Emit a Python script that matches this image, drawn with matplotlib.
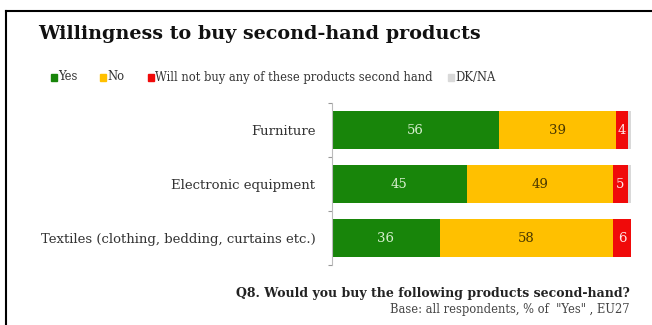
import matplotlib.pyplot as plt
import numpy as np
from matplotlib.patches import Rectangle
from matplotlib.lines import Line2D

categories = ["Furniture", "Electronic equipment", "Textiles (clothing, bedding, curtains etc.)"]
series_names = ["Yes", "No", "Will not buy any of these products second hand", "DK/NA"]
yes = [56, 45, 36]
no = [39, 49, 58]
will_not = [4, 5, 6]
dk_na = [1, 1, 0]

colors = ["#18850a", "#ffc000", "#f00a0a", "#d9d9d9"]
label_colors = ["#d8f0d0", "#4a3800", "#ffe8e8", None]

plt.rcParams['font.family'] = ['DejaVu Serif']

fig = plt.figure(figsize=(6.52, 3.25), dpi=100)
ax = fig.add_axes([332/652, 1 - 265/325, 299/652, 162/325])

ys = np.arange(len(categories))
left = np.zeros(len(categories))
for vals, col, lcol in zip([yes, no, will_not, dk_na], colors, label_colors):
    vals = np.array(vals, dtype=float)
    ax.barh(ys, vals, left=left, height=0.70, color=col, edgecolor='none')
    if lcol is not None:
        for y, l, v in zip(ys, left, vals):
            ax.text(l + v / 2, y, f"{v:.0f}", ha='center', va='center',
                    fontsize=9.5, color=lcol)
    left += vals

ax.set_xlim(0, 100)
ax.set_ylim(2.5, -0.5)
ax.set_yticks(ys)
ax.set_yticklabels(categories, fontsize=9.5, color="#333333")
ax.set_yticks([-0.5, 0.5, 1.5, 2.5], minor=True)
ax.tick_params(axis='y', which='major', length=0, pad=12)
ax.tick_params(axis='y', which='minor', length=3, color="#999999", width=0.8)
ax.set_xticks([])
for s in ['top', 'right', 'bottom']:
    ax.spines[s].set_visible(False)
ax.spines['left'].set_color("#bbbbbb")
ax.spines['left'].set_linewidth(0.8)

# title and legend row
fig.text(38/652, 1 - 34/325, "Willingness to buy second-hand products",
         fontsize=13.8, fontweight='bold', color="#111111", va='center', ha='left')

legend_x = [51, 100, 148, 448]
for x, name, col in zip(legend_x, series_names, colors):
    fig.patches.append(Rectangle((x/652, 1 - 81/325), 6/652, 7/325,
                                 transform=fig.transFigure, color=col))
    fig.text((x + 7)/652, 1 - 77/325, name, fontsize=8.3, color="#333333",
             va='center', ha='left')

# footnotes
fig.text(630/652, 1 - 293/325, "Q8. Would you buy the following products second-hand?",
         fontsize=9, fontweight='bold', color="#222222", ha='right', va='center')
fig.text(630/652, 1 - 310/325, 'Base: all respondents, % of  "Yes" , EU27',
         fontsize=8.3, color="#444444", ha='right', va='center')

# frame lines along top and left
fig.lines.append(Line2D([6/652, 6/652], [0, 1 - 11/325], transform=fig.transFigure,
                        color="black", linewidth=1.5))
fig.lines.append(Line2D([6/652, 1], [1 - 11/325, 1 - 11/325], transform=fig.transFigure,
                        color="black", linewidth=1.5))

fig.savefig("out.png", dpi=100)
